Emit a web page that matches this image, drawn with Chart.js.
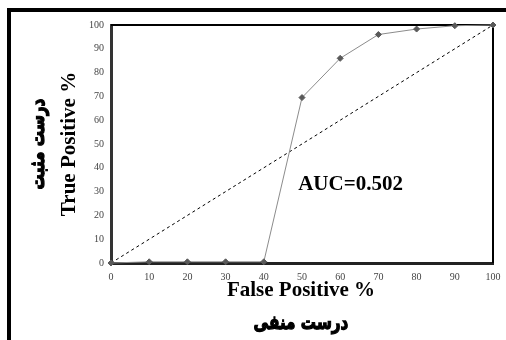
<!DOCTYPE html>
<html>
<head>
<meta charset="utf-8">
<script src="https://cdn.jsdelivr.net/npm/chart.js@4"></script>
<style>
  html, body { margin: 0; padding: 0; background: #fff; }
  #wrap { width: 506px; height: 340px; }
</style>
</head>
<body>
<div id="wrap"><canvas id="rocChart" width="506" height="340"></canvas></div>
<script>
// datos de la curva ROC
var falsePositive = [0, 10, 20, 30, 40, 50, 60, 70, 80, 90, 100];
var truePositive = [0, 0.5, 0.5, 0.5, 0.5, 69.5, 86, 96, 98.3, 99.7, 100];
var diagonalX = [0, 100];
var diagonalY = [0, 100];
var aucLabel = "AUC=0.502";

var rocPoints = falsePositive.map(function (x, i) { return { x: x, y: truePositive[i] }; });
var diagPoints = diagonalX.map(function (x, i) { return { x: x, y: diagonalY[i] }; });

// texto persa mas compacto y grueso
function persianText(ctx, text, x, y) {
    ctx.save();
    ctx.translate(x, y);
    ctx.scale(0.8, 1.05);
    ctx.font = 'bold 19px "DejaVu Sans"';
    ctx.lineWidth = 1.2;
    ctx.strokeStyle = '#000';
    ctx.strokeText(text, 0, 0);
    ctx.fillText(text, 0, 0);
    ctx.restore();
}

// textos y marco
var frameText = {
    id: 'frameText',
    beforeDraw: function (chart) {
        var ctx = chart.ctx;
        ctx.save();
        ctx.fillStyle = '#fff';
        ctx.fillRect(0, 0, chart.width, chart.height);
        ctx.fillStyle = '#000';
        ctx.fillRect(7, 8, 499, 4);
        ctx.fillRect(7, 8, 4, 332);
        ctx.restore();
    },
    afterDraw: function (chart) {
        var ctx = chart.ctx;
        var area = chart.chartArea;
        var xs = chart.scales.x, ys = chart.scales.y;
        ctx.save();
        ctx.fillStyle = '#000';
        ctx.textBaseline = 'middle';
        ctx.textAlign = 'left';
        ctx.font = 'bold 21px "Liberation Serif"';
        ctx.fillText(aucLabel, xs.getPixelForValue(49), ys.getPixelForValue(33));

        ctx.textAlign = 'center';
        ctx.font = 'bold 21px "Liberation Serif"';
        ctx.fillText('False Positive %', 301, 291);
        persianText(ctx, 'درست منفی', 301, 324);

        var cy = (area.top + area.bottom) / 2;
        ctx.translate(70, cy);
        ctx.rotate(-Math.PI / 2);
        ctx.font = 'bold 21px "Liberation Serif"';
        ctx.fillText('True Positive %', 0, 0);
        persianText(ctx, 'درست مثبت', 0, -31);
        ctx.restore();
    },
    beforeDatasetsDraw: function (chart) {
        var ctx = chart.ctx;
        var area = chart.chartArea;
        // borde superior y derecho
        ctx.save();
        ctx.strokeStyle = '#000';
        ctx.lineWidth = 2;
        ctx.beginPath();
        ctx.moveTo(area.left, area.top);
        ctx.lineTo(area.right, area.top);
        ctx.lineTo(area.right, area.bottom);
        ctx.stroke();
        ctx.restore();
    }
};

var ctx = document.getElementById('rocChart').getContext('2d');
new Chart(ctx, {
    type: 'scatter',
    data: {
        datasets: [{
            data: rocPoints,
            showLine: true,
            clip: false,
            borderColor: '#8c8c8c',
            borderWidth: 1,
            pointStyle: 'rectRot',
            pointRadius: 3,
            pointBackgroundColor: '#595959',
            pointBorderColor: '#595959',
            order: 1
        }, {
            data: diagPoints,
            showLine: true,
            clip: false,
            borderColor: '#000',
            borderWidth: 1,
            borderDash: [3, 3],
            pointRadius: 0,
            order: 2
        }]
    },
    options: {
        responsive: false,
        animation: false,
        layout: { padding: { left: 0, right: 13, top: 25, bottom: 0 } },
        plugins: { legend: { display: false }, tooltip: { enabled: false } },
        scales: {
            x: {
                type: 'linear', min: 0, max: 100,
                ticks: { stepSize: 10, color: '#444', font: { family: 'Liberation Serif', size: 10 }, padding: 8, maxRotation: 0 },
                grid: { display: false, drawTicks: false },
                border: { color: '#222', width: 3 },
                afterFit: function (scale) {
                    scale.height = 77;
                    scale.paddingLeft = 0;
                    scale.paddingRight = 0;
                }
            },
            y: {
                type: 'linear', min: 0, max: 100,
                ticks: { stepSize: 10, color: '#444', font: { family: 'Liberation Serif', size: 10 }, padding: 7 },
                grid: { display: false, drawTicks: false },
                border: { color: '#333', width: 3 },
                afterFit: function (scale) {
                    scale.width = 111;
                    scale.paddingTop = 0;
                    scale.paddingBottom = 0;
                }
            }
        }
    },
    plugins: [frameText]
});
</script>
</body>
</html>
